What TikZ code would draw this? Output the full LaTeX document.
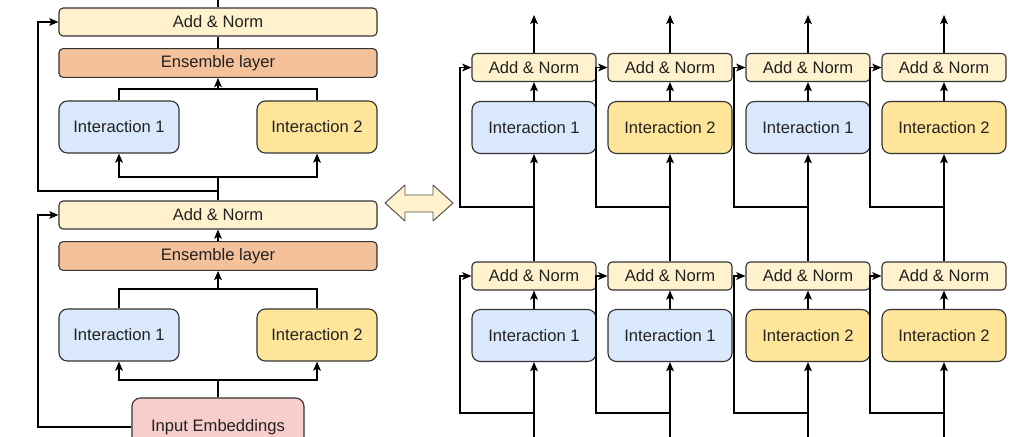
\documentclass[tikz,border=0pt]{standalone}
\usepackage{fontspec}
\setmainfont{Liberation Sans}
\usetikzlibrary{arrows.meta}
\definecolor{normfill}{HTML}{FFF2CC}
\definecolor{ensfill}{HTML}{F5C19A}
\definecolor{int1}{HTML}{DAE8FC}
\definecolor{int2}{HTML}{FFE599}
\definecolor{embfill}{HTML}{F8CECC}
\definecolor{edge}{HTML}{333333}
\definecolor{ink}{HTML}{222222}

\begin{document}
\begin{tikzpicture}[x=0.025cm, y=-0.025cm, >={Stealth[length=6.5pt,width=5.5pt,inset=1.5pt]},
    line width=0.9pt,
    box/.style={draw=edge, line width=0.8pt, rounded corners=3pt, text=ink,
      inner sep=0pt, font=\fontsize{11.8}{13}\selectfont},
    norm/.style={box, fill=normfill, minimum height=0.7cm},
    ens/.style={box, fill=ensfill, minimum height=0.72cm, minimum width=7.95cm},
    inter/.style={box, rounded corners=6pt, minimum height=1.3cm},
    emb/.style={box, rounded corners=6pt, fill=embfill, minimum width=4.3cm, minimum height=1.45cm}]
  \clip (0,0) rectangle (1024,436);

  % left: two stacked ensemble blocks
  \node[norm, minimum width=7.95cm] (AddB) at (218,22) {Add \& Norm};
  \node[ens] (EnsB) at (218,63) {Ensemble layer};
  \node[inter, fill=int1, minimum width=3cm] (IntB1) at (119,127) {Interaction 1};
  \node[inter, fill=int2, minimum width=3cm] (IntB2) at (317,127) {Interaction 2};
  \node[norm, minimum width=7.95cm] (AddA) at (218,215) {Add \& Norm};
  \node[ens] (EnsA) at (218,256) {Ensemble layer};
  \node[inter, fill=int1, minimum width=3cm] (IntA1) at (119,335) {Interaction 1};
  \node[inter, fill=int2, minimum width=3cm] (IntA2) at (317,335) {Interaction 2};
  \node[emb] (Emb) at (218,427) {Input Embeddings};

  \coordinate (OutL) at (218,0);
  \coordinate (MB) at (218,89);
  \coordinate (SB) at (218,177);
  \coordinate (RB) at (218,191);
  \coordinate (FB) at (38,191);
  \coordinate (MA) at (218,289);
  \coordinate (SA) at (218,380);
  \coordinate (FA) at (38,427);

  \draw (AddB.north) -- (OutL);
  \draw (EnsB.north) -- (AddB.south);
  \draw (IntB1.north) |- (MB) -| (IntB2.north);
  \draw[->] (MB) -- (EnsB.south);
  \draw (AddA.north) -- (SB);
  \draw[->] (SB) -| (IntB1.south);
  \draw[->] (SB) -| (IntB2.south);
  \draw[->] (RB) -- (FB) |- (AddB.west);

  \draw[->] (EnsA.north) -- (AddA.south);
  \draw (IntA1.north) |- (MA) -| (IntA2.north);
  \draw[->] (MA) -- (EnsA.south);
  \draw (Emb.north) -- (SA);
  \draw[->] (SA) -| (IntA1.south);
  \draw[->] (SA) -| (IntA2.south);
  \draw[->] (Emb.west) -- (FA) |- (AddA.west);

  % double arrow between the two views
  \draw[draw=edge!85, fill=normfill, line width=0.7pt, line join=round]
    (385,203) -- (405,185) -- (405,195) -- (433,195) -- (433,185) -- (453,203)
    -- (433,221) -- (433,212) -- (405,212) -- (405,221) -- cycle;

  % right: four columns, two rows
  \foreach \i/\x/\ta/\tb in {1/534/1/1, 2/670/1/2, 3/808/2/1, 4/944/2/2} {
    \node[inter, fill=int\ta, minimum width=3.1cm] (Ia\i) at (\x,335.5) {Interaction \ta};
    \node[norm, minimum width=3.1cm] (Na\i) at (\x,276) {Add \& Norm};
    \node[inter, fill=int\tb, minimum width=3.1cm] (Ib\i) at (\x,127.5) {Interaction \tb};
    \node[norm, minimum width=3.1cm] (Nb\i) at (\x,67.5) {Add \& Norm};
    \coordinate (Ba\i) at (\x,440);
    \coordinate (Sa\i) at (\x,413);
    \coordinate (Ra\i) at (\x-74,413);
    \coordinate (Sb\i) at (\x,207);
    \coordinate (Rb\i) at (\x-74,207);
    \coordinate (Ob\i) at (\x,15);
    \draw[->] (Ba\i) -- (Ia\i.south);
    \draw[->] (Ia\i.north) -- (Na\i.south);
    \draw[->] (Sa\i) -- (Ra\i) |- (Na\i.west);
    \draw[->] (Na\i.north) -- (Ib\i.south);
    \draw[->] (Ib\i.north) -- (Nb\i.south);
    \draw[->] (Sb\i) -- (Rb\i) |- (Nb\i.west);
    \draw[->] (Nb\i.north) -- (Ob\i);
  }
\end{tikzpicture}
\end{document}
